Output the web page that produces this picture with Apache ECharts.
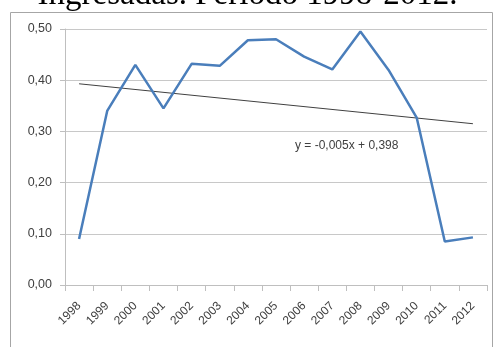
<!DOCTYPE html>
<html><head><meta charset="utf-8">
<script src="https://cdn.jsdelivr.net/npm/echarts@6/dist/echarts.min.js"></script>
<style>html,body{margin:0;padding:0;background:#fff}#c{width:495px;height:347px}</style>
</head><body><div id="c"></div>
<script>
const years = ['1998','1999','2000','2001','2002','2003','2004','2005','2006','2007','2008','2009','2010','2011','2012'];
const values = [0.090,0.340,0.430,0.345,0.432,0.428,0.478,0.480,0.446,0.421,0.495,0.420,0.327,0.085,0.093];
const trendValues = [0.393,null,null,null,null,null,null,null,null,null,null,null,null,null,0.315];
const yTicks = [0,0.1,0.2,0.3,0.4,0.5];
const titleText = 'Ingresadas. Período 1998-2012.';
const equationText = 'y = -0,005x + 0,398';

const chart = echarts.init(document.getElementById('c'), null, {renderer:'canvas'});
chart.setOption({
  animation:false,
  grid:{left:65, right:8, top:29, bottom:62, containLabel:false},
  xAxis:{type:'category', data:years, boundaryGap:true,
    axisLine:{lineStyle:{color:'#bfbfbf'}},
    axisTick:{show:true, length:6, lineStyle:{color:'#bfbfbf'}},
    axisLabel:{rotate:45, fontSize:12, color:'#404040', fontFamily:'Liberation Sans, Arial', margin:19}},
  yAxis:{type:'value', min:0, max:0.5, interval:0.1,
    axisLine:{show:true, lineStyle:{color:'#bfbfbf'}},
    axisTick:{show:true, length:5, lineStyle:{color:'#bfbfbf'}},
    splitLine:{lineStyle:{color:'#c8c8c8', width:1}},
    axisLabel:{fontSize:12.5, color:'#404040', fontFamily:'Liberation Sans, Arial', margin:13,
      formatter:v=>v.toFixed(2).replace('.',',')}},
  series:[
    {type:'line', data:values, symbol:'none', lineStyle:{color:'#4a7ebb', width:2.5}, z:3},
    {type:'line', data:trendValues, connectNulls:true, symbol:'none', lineStyle:{color:'#404040', width:1}, z:2}
  ],
  graphic:[
    {type:'rect', shape:{x:10.5,y:12.5,width:482,height:360}, style:{fill:'none', stroke:'#a6a6a6', lineWidth:1}, z:-1},
    {type:'text', left:'center', top:-21, style:{text:titleText, font:'33px "Liberation Serif", "Times New Roman", serif', fill:'#000'}},
    {type:'text', left:295, top:140, style:{text:equationText, font:'12px "Liberation Sans", Arial', fill:'#404040'}}
  ]
});
</script></body></html>
